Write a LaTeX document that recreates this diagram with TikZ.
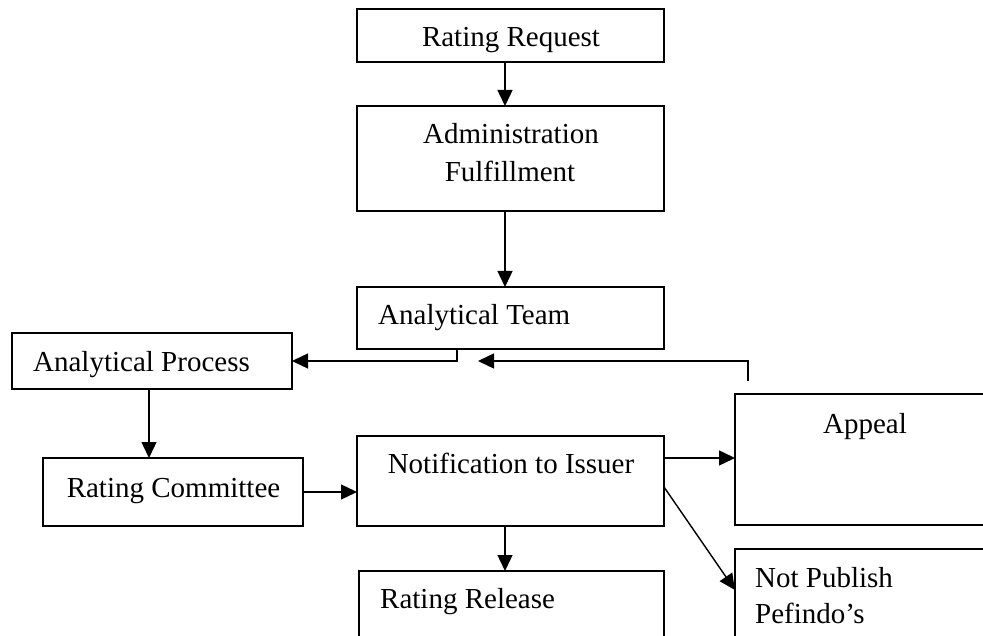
\documentclass[tikz,border=0pt]{standalone}
\usepackage{fontspec}
\setmainfont{Liberation Serif}
\usetikzlibrary{arrows.meta,calc}

\tikzset{
  box/.style={draw, line width=1.7pt, rectangle, inner sep=0pt, outer sep=0pt},
  txt/.style={inner sep=0pt, anchor=base, font=\fontsize{29}{35}\selectfont},
  txtl/.style={txt, anchor=base west},
  arr/.style={line width=1.4pt, -{Triangle[length=16pt,width=15pt]}}
}

\begin{document}
\begin{tikzpicture}[x=1pt, y=-1pt]
  \useasboundingbox (0,0) rectangle (983,636);
  \clip (0,0) rectangle (983,636);

  % boxes (centre, width, height in px-sized units)
  \node[box, minimum width=307pt, minimum height=53pt]  (req)     at (510.5,35.5)  {};
  \node[box, minimum width=307pt, minimum height=105pt] (admin)   at (510.5,158.5) {};
  \node[box, minimum width=307pt, minimum height=62pt]  (team)    at (510.5,318)   {};
  \node[box, minimum width=280pt, minimum height=56pt]  (proc)    at (152,361)     {};
  \node[box, minimum width=260pt, minimum height=68pt]  (comm)    at (173,492)     {};
  \node[box, minimum width=307pt, minimum height=90pt]  (notif)   at (510.5,481)   {};
  \node[box, minimum width=280pt, minimum height=131pt] (appeal)  at (875,459.5)   {};
  \node[box, minimum width=280pt, minimum height=151pt] (notpub)  at (875,624.5)   {};
  \node[box, minimum width=305pt, minimum height=129pt] (release) at (511.5,635.5) {};

  % labels
  \node[txt]  (treq)    at (511,47)  {Rating Request};
  \node[txt]  (tadmin1) at (511,144) {Administration};
  \node[txt]  (tadmin2) at (510,182) {Fulfillment};
  \node[txtl] (tteam)   at (378,325) {Analytical Team};
  \node[txt]  (tproc)   at (141.5,372) {Analytical Process};
  \node[txt]  (tcomm)   at (173.5,497) {Rating Committee};
  \node[txt]  (tnotif)  at (511,473) {Notification to Issuer};
  \node[txt]  (tappeal) at (865,433) {Appeal};
  \node[txtl] (tnp1)    at (755,587) {Not Publish};
  \node[txtl] (tnp2)    at (755,623) {Pefindo’s};
  \node[txtl] (trel)    at (380,608) {Rating Release};

  % free ends of the return line from the appeal
  \coordinate (fbstart) at (748,381);
  \coordinate (fbend)   at (478,361);

  % connectors
  \draw[arr] ([xshift=-5.5pt]req.south) -- ([xshift=-5.5pt]admin.north);
  \draw[arr] ([xshift=-5.5pt]admin.south) -- ([xshift=-5.5pt]team.north);
  \draw[arr] ([xshift=-53.5pt]team.south) |- (proc.east);
  \draw[arr] (fbstart) |- (fbend);
  \draw[arr] ([xshift=-3pt]proc.south) -- ([xshift=-3pt]proc.south |- comm.north);
  \draw[arr] (comm.east) -- (comm.east -| notif.west);
  \draw[arr] ([yshift=23pt]notif.east) -- ([yshift=23pt]notif.east -| appeal.west);
  \draw[arr] ([yshift=-6pt]notif.east) -- ([yshift=34.5pt]notpub.west);
  \draw[arr] ([xshift=-5.5pt]notif.south) -- ([xshift=-5.5pt]notif.south |- release.north);
\end{tikzpicture}
\end{document}
